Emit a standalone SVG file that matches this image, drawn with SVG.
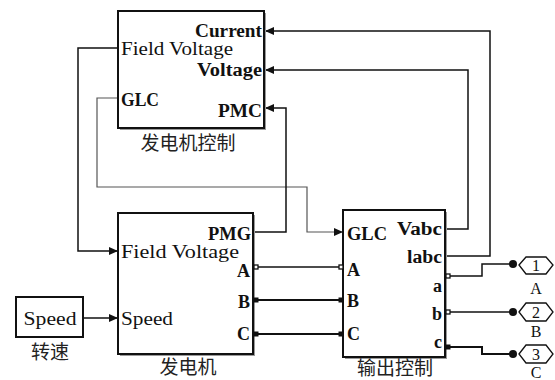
<svg xmlns="http://www.w3.org/2000/svg" width="555" height="380" viewBox="0 0 555 380">
<defs>
<marker id="arr" viewBox="0 0 9 8" refX="9" refY="4" markerWidth="9" markerHeight="8" markerUnits="userSpaceOnUse" orient="auto">
<path d="M0,0 L9,4 L0,8 z" fill="#111"/>
</marker>
<style>
.blk{fill:#fff;stroke:#111;stroke-width:2}
.sh{fill:#9a9a9a}
text{font-family:'Liberation Serif','DejaVu Serif',serif;fill:#111}
.t{font-size:18px;font-weight:bold}
.tn{font-size:18px}
.o{font-size:16px}
.cjk{font-family:'Liberation Serif','Noto Sans CJK SC',serif;font-size:19px;fill:#222}
.w{fill:none;stroke:#111;stroke-width:1.5}
.wb{fill:none;stroke:#111;stroke-width:2}
.wg{fill:none;stroke:#555;stroke-width:1.2}
.e{text-anchor:end}
.m{text-anchor:middle}
.ps{fill:#fff;stroke:#111;stroke-width:1.3}
.pf{fill:#111;stroke:#111;stroke-width:1}
.hex{fill:#fff;stroke:#111;stroke-width:1.3}
</style>
</defs>

<g id="connectors">
<path class="w" d="M118,48 H78 V251 H118" marker-end="url(#arr)"/>
<path class="wg" d="M118,98 H97 V187 H307 V232 H343" marker-end="url(#arr)"/>
<path class="w" d="M253,232 H286 V108 H265" marker-end="url(#arr)"/>
<path class="w" d="M445,229 H468 V70 H265" marker-end="url(#arr)"/>
<path class="w" d="M445,256 H490 V31 H265" marker-end="url(#arr)"/>
<path class="w" d="M83,318 H118" marker-end="url(#arr)"/>
<path class="w" d="M256,267 H340"/>
<path class="wb" d="M256,300 H340"/>
<path class="wb" d="M256,334 H340"/>
<path class="w" d="M448,276 H482 V264 H513"/>
<path class="w" d="M448,312 H513"/>
<path class="wb" d="M448,347 H482 V354 H513"/>
<circle cx="513" cy="264" r="4" fill="#111"/>
<circle cx="513" cy="312" r="4" fill="#111"/>
<circle cx="513" cy="354" r="4" fill="#111"/>
</g>

<g id="gen-control">
<rect class="sh" x="120" y="13" width="146" height="117"/>
<rect class="blk" x="118" y="11" width="146" height="117"/>
<text class="t e" x="262" y="37" textLength="67" lengthAdjust="spacingAndGlyphs">Current</text>
<text class="tn" x="121" y="55" textLength="112" lengthAdjust="spacingAndGlyphs">Field Voltage</text>
<text class="t e" x="262" y="76" textLength="65" lengthAdjust="spacingAndGlyphs">Voltage</text>
<text class="t" x="121" y="106" textLength="38" lengthAdjust="spacingAndGlyphs">GLC</text>
<text class="t e" x="262" y="117" textLength="44" lengthAdjust="spacingAndGlyphs">PMC</text>
<text class="cjk m" x="188" y="150">发电机控制</text>
</g>

<g id="generator">
<rect class="sh" x="120" y="215" width="135" height="141"/>
<rect class="blk" x="118" y="213" width="135" height="141"/>
<text class="t e" x="251" y="240" textLength="43" lengthAdjust="spacingAndGlyphs">PMG</text>
<text class="tn" x="121" y="258" textLength="118" lengthAdjust="spacingAndGlyphs">Field Voltage</text>
<text class="t e" x="250" y="277">A</text>
<text class="t e" x="250" y="308">B</text>
<text class="t e" x="250" y="340">C</text>
<text class="tn" x="121" y="325" textLength="52" lengthAdjust="spacingAndGlyphs">Speed</text>
<rect class="ps" x="254" y="265" width="4" height="4"/>
<rect class="pf" x="254" y="298" width="4" height="4"/>
<rect class="pf" x="254" y="332" width="4" height="4"/>
<text class="cjk m" x="188" y="374">发电机</text>
</g>

<g id="speed">
<rect class="blk" x="16" y="297" width="67" height="40"/>
<text class="tn m" x="50" y="325" textLength="53" lengthAdjust="spacingAndGlyphs">Speed</text>
<text class="cjk m" x="50" y="359">转速</text>
</g>

<g id="output-control">
<rect class="sh" x="345" y="212" width="102" height="147"/>
<rect class="blk" x="343" y="210" width="102" height="147"/>
<text class="t" x="347" y="240" textLength="40" lengthAdjust="spacingAndGlyphs">GLC</text>
<text class="t e" x="442" y="235" textLength="45" lengthAdjust="spacingAndGlyphs">Vabc</text>
<text class="t e" x="442" y="263" textLength="35" lengthAdjust="spacingAndGlyphs">labc</text>
<text class="t" x="347" y="276">A</text>
<text class="t" x="347" y="307">B</text>
<text class="t" x="347" y="340">C</text>
<text class="t e" x="442" y="292">a</text>
<text class="t e" x="442" y="320">b</text>
<text class="t e" x="442" y="348">c</text>
<rect class="ps" x="339" y="265" width="4" height="4"/>
<rect class="pf" x="339" y="298" width="4" height="4"/>
<rect class="pf" x="339" y="332" width="4" height="4"/>
<rect class="ps" x="446" y="274" width="4" height="4"/>
<rect class="ps" x="446" y="310" width="4" height="4"/>
<rect class="pf" x="446" y="345" width="4" height="4"/>
<text class="cjk m" x="395" y="375">输出控制</text>
</g>

<g id="out1">
<polygon class="hex" points="519,265 526,257 546,257 553,265 546,274 526,274"/>
<text class="o m" x="536" y="271">1</text>
<text class="o m" x="536" y="294">A</text>
</g>
<g id="out2">
<polygon class="hex" points="519,312 526,303 546,303 553,312 546,321 526,321"/>
<text class="o m" x="536" y="318">2</text>
<text class="o m" x="536" y="337">B</text>
</g>
<g id="out3">
<polygon class="hex" points="519,354 526,345 546,345 553,354 546,363 526,363"/>
<text class="o m" x="536" y="360">3</text>
<text class="o m" x="536" y="378">C</text>
</g>
</svg>
